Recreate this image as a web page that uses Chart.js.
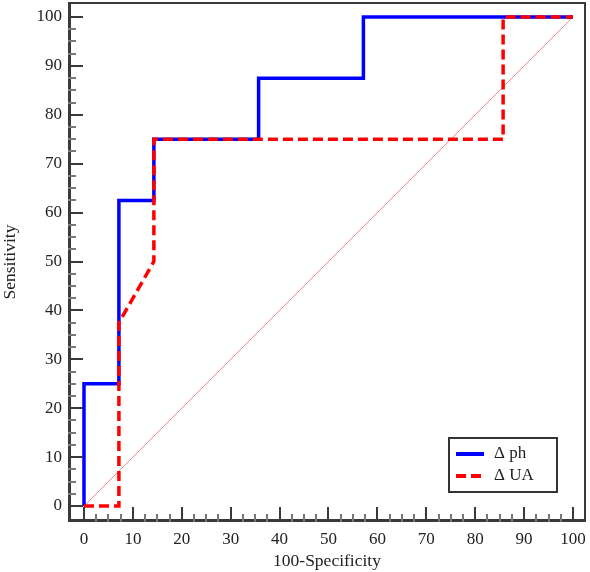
<script src="https://cdn.jsdelivr.net/npm/chart.js@4.4.0/dist/chart.umd.min.js"></script>
<style>
  body { margin: 0; background: #fff; }
  #wrap { width: 590px; height: 572px; }
</style>

<div id="wrap"><canvas id="roc"></canvas></div>

<script>
// ROC data
const fprPh  = [0, 0, 7.14, 7.14, 14.29, 14.29, 35.71, 35.71, 57.14, 57.14, 100];
const sensPh = [0, 25, 25, 62.5, 62.5, 75, 75, 87.5, 87.5, 100, 100];
const fprUA  = [0, 7.14, 7.14, 14.29, 14.29, 85.71, 85.71, 100];
const sensUA = [0, 0, 37.5, 50, 75, 75, 100, 100];
const diagX  = [0, 100];
const diagY  = [0, 100];
const tickVals = [0, 10, 20, 30, 40, 50, 60, 70, 80, 90, 100];
const seriesNames = ['\u0394 ph', '\u0394 UA'];

const FONT = 'Liberation Serif, Times New Roman, serif';
const pts = (xs, ys) => xs.map((x, i) => ({ x: x, y: ys[i] }));

// inward ticks, frame and legend box
const frame = {
  id: 'frame',
  afterDatasetsDraw(chart) {
    const c = chart.ctx, a = chart.chartArea;
    const xs = chart.scales.x, ys = chart.scales.y;
    c.save();
    c.strokeStyle = '#3a3a3a';
    // top + right
    c.lineWidth = 2;
    c.beginPath();
    c.moveTo(a.left, a.top + 1); c.lineTo(a.right - 1, a.top + 1); c.lineTo(a.right - 1, a.bottom);
    c.stroke();
    // left + bottom axis
    c.lineWidth = 3;
    c.beginPath();
    c.moveTo(a.left + 1.5, a.top); c.lineTo(a.left + 1.5, a.bottom - 1.5); c.lineTo(a.right, a.bottom - 1.5);
    c.stroke();
    // ticks
    c.lineWidth = 2;
    for (let v = 0; v <= 100; v += 2.5) {
      const major = v % 10 === 0;
      const len = major ? 15 : 8;
      c.strokeStyle = major ? '#3a3a3a' : '#777';
      const px = Math.round(xs.getPixelForValue(v));
      const py = Math.round(ys.getPixelForValue(v));
      c.beginPath();
      c.moveTo(px, a.bottom); c.lineTo(px, a.bottom - len);
      c.moveTo(a.left, py); c.lineTo(a.left + len, py);
      c.stroke();
    }
    // legend
    const bx = a.right - 137, by = a.bottom - 84, bw = 108, bh = 54;
    c.fillStyle = '#fff';
    c.fillRect(bx, by, bw, bh);
    c.strokeStyle = '#333';
    c.lineWidth = 2;
    c.strokeRect(bx, by, bw, bh);
    c.font = '17px ' + FONT;
    c.textBaseline = 'middle';
    c.textAlign = 'left';
    const items = [chart.data.datasets[1], chart.data.datasets[0]];
    items.forEach((ds, i) => {
      const y = by + 16 + i * 22;
      c.strokeStyle = ds.borderColor;
      c.lineWidth = 4;
      c.setLineDash(ds.borderDash || []);
      c.beginPath();
      c.moveTo(bx + 7, y); c.lineTo(bx + 35, y);
      c.stroke();
      c.setLineDash([]);
      c.fillStyle = '#222';
      c.fillText(ds.label, bx + 45, y);
    });
    c.restore();
  }
};

new Chart(document.getElementById('roc'), {
  type: 'scatter',
  data: {
    datasets: [
      {
        label: seriesNames[1],
        data: pts(fprUA, sensUA),
        showLine: true,
        borderColor: '#ff0000',
        borderWidth: 3.5,
        borderDash: [10, 5],
        borderJoinStyle: 'miter',
        pointRadius: 0,
        order: 0
      },
      {
        label: seriesNames[0],
        data: pts(fprPh, sensPh),
        showLine: true,
        borderColor: '#0000ff',
        borderWidth: 3.5,
        borderJoinStyle: 'miter',
        pointRadius: 0,
        order: 1
      },
      {
        label: 'ref',
        data: pts(diagX, diagY),
        showLine: true,
        borderColor: 'rgba(235,120,120,0.85)',
        borderWidth: 1,
        pointRadius: 0,
        order: 2
      }
    ]
  },
  options: {
    responsive: true,
    maintainAspectRatio: false,
    animation: false,
    layout: { padding: { top: 2, right: 4, left: 0, bottom: 0 } },
    plugins: { legend: { display: false }, tooltip: { enabled: false } },
    scales: {
      x: {
        type: 'linear',
        min: -3.27,
        max: 102.66,
        afterBuildTicks: s => { s.ticks = tickVals.map(v => ({ value: v })); },
        afterFit: s => { s.height = 50; s.paddingLeft = 0; s.paddingRight = 0; },
        grid: { display: false, drawTicks: false },
        border: { display: false },
        ticks: { color: '#222', padding: 7, font: { family: FONT, size: 17 }, maxRotation: 0 },
        title: { display: true, text: '100-Specificity', color: '#222', padding: { top: 0, bottom: 0 }, font: { family: FONT, size: 17.5 } }
      },
      y: {
        type: 'linear',
        min: -3.27,
        max: 103.07,
        afterBuildTicks: s => { s.ticks = tickVals.map(v => ({ value: v })); },
        afterFit: s => { s.width = 68; s.paddingTop = 0; s.paddingBottom = 0; },
        grid: { display: false, drawTicks: false },
        border: { display: false },
        ticks: { color: '#222', padding: 6, font: { family: FONT, size: 17 } },
        title: { display: true, text: 'Sensitivity', color: '#222', padding: { top: 0, bottom: 0 }, font: { family: FONT, size: 17.5 } }
      }
    }
  },
  plugins: [frame]
});
</script>
